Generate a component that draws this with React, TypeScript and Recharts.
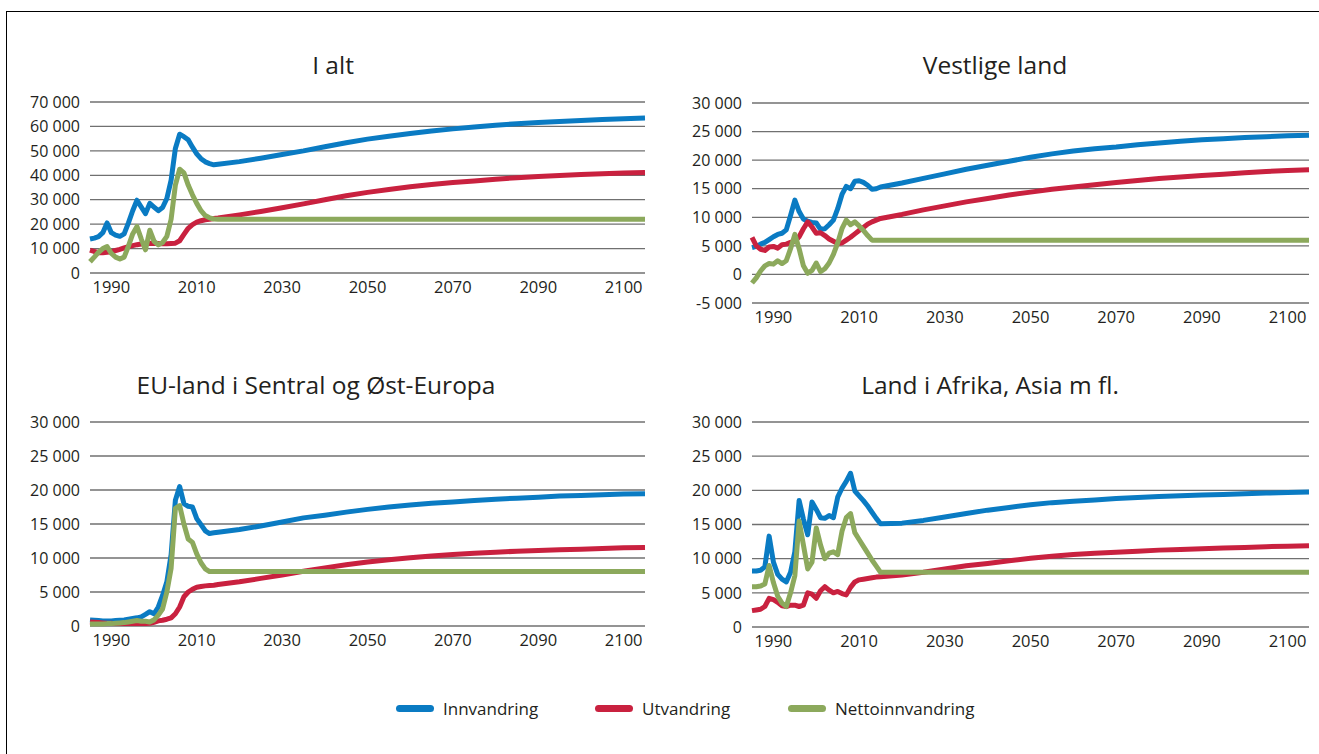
import React from 'react';
import { LineChart, Line, XAxis, YAxis, CartesianGrid } from 'recharts';

// years: annual history, then projection every 5 years
const YEARS = [
  1985, 1986, 1987, 1988, 1989, 1990, 1991, 1992, 1993, 1994, 1995, 1996, 1997, 1998, 1999, 2000,
  2001, 2002, 2003, 2004, 2005, 2006, 2007, 2008, 2009, 2010, 2011, 2012, 2013, 2014, 2015,
  2020, 2025, 2030, 2035, 2040, 2045, 2050, 2055, 2060, 2065, 2070, 2075, 2080, 2085, 2090,
  2095, 2100, 2105, 2110, 2115,
];

const X_TICKS = [1990, 2010, 2030, 2050, 2070, 2090, 2110];
const X_TICK_LABELS = ['1990', '2010', '2030', '2050', '2070', '2090', '2100'];

const SERIES_NAMES = ['Innvandring', 'Utvandring', 'Nettoinnvandring'];

// I alt
const I_ALT_INN = [
  13900, 14300, 14900, 16500, 20500, 16500, 15500, 15000, 16000, 20500, 25500, 29800, 27000, 24300, 28500, 27000,
  25500, 26800, 30500, 38000, 51000, 56800, 55800, 54500, 51500, 48800, 46800, 45500, 44800, 44300, 44500,
  45600, 47000, 48500, 50000, 51700, 53300, 54800, 56000, 57100, 58100, 59000, 59800, 60500, 61100, 61600,
  62000, 62400, 62800, 63100, 63400,
];
const I_ALT_UT = [
  9400, 8800, 8300, 8300, 8500, 8700, 9200, 9700, 10300, 10800, 11200, 11600, 11900, 12100, 12200, 12100,
  12100, 12000, 12000, 12100, 12200, 13200, 15800, 18300, 19800, 20800, 21400, 21800, 22000, 22300, 22500,
  23800, 25200, 26700, 28300, 30000, 31600, 33000, 34200, 35300, 36200, 37000, 37700, 38400, 39000, 39500,
  39900, 40300, 40600, 40900, 41100,
];
const I_ALT_NETTO = [
  4600, 6500, 8500, 10000, 10800, 8000, 6500, 5700, 6500, 11000, 16000, 19000, 14000, 9500, 17500, 13000,
  11500, 12500, 15000, 22000, 36000, 42500, 41000, 36000, 32000, 28500, 25500, 23500, 22600, 22100, 22000,
  22000, 22000, 22000, 22000, 22000, 22000, 22000, 22000, 22000, 22000, 22000, 22000, 22000, 22000, 22000,
  22000, 22000, 22000, 22000, 22000,
];

// Vestlige land
const VEST_INN = [
  4700, 4900, 5300, 5600, 6100, 6600, 7000, 7200, 7800, 10300, 13000, 11000, 9700, 9300, 9100, 9000,
  7900, 8000, 8700, 9500, 11500, 14000, 15400, 15000, 16300, 16400, 16100, 15600, 14900, 15000, 15300,
  16000, 16800, 17600, 18400, 19100, 19800, 20500, 21100, 21600, 22000, 22300, 22700, 23000, 23300, 23550,
  23750, 23950, 24100, 24250, 24350,
];
const VEST_UT = [
  6500, 5000, 4400, 4200, 4800, 4900, 4600, 5200, 5300, 5600, 5800, 6600, 8000, 9200, 8300, 7200,
  7300, 6800, 6200, 5800, 5400, 5500, 6000, 6500, 7100, 7700, 8200, 8800, 9200, 9500, 9800,
  10500, 11300, 12000, 12700, 13300, 13900, 14400, 14900, 15300, 15700, 16100, 16450, 16800, 17050, 17300,
  17550, 17800, 18000, 18200, 18300,
];
const VEST_NETTO = [
  -1500, -600, 600, 1500, 1900, 1800, 2400, 1900, 2400, 4500, 7000, 4500, 1500, 200, 700, 2000,
  500, 1000, 2000, 3500, 5500, 8000, 9500, 8700, 9200, 8500, 7700, 6800, 6000, 6000, 6000,
  6000, 6000, 6000, 6000, 6000, 6000, 6000, 6000, 6000, 6000, 6000, 6000, 6000, 6000, 6000,
  6000, 6000, 6000, 6000, 6000,
];

// EU-land i Sentral og Øst-Europa
const EU_INN = [
  900, 850, 800, 750, 750, 750, 800, 850, 900, 1000, 1100, 1200, 1350, 1700, 2100, 1800,
  2800, 4500, 6500, 10500, 18500, 20500, 18000, 17600, 17500, 15800, 14900, 14000, 13600, 13700, 13800,
  14200, 14700, 15300, 15900, 16300, 16750, 17150, 17500, 17800, 18050, 18250, 18450, 18650, 18800, 18950,
  19100, 19200, 19300, 19400, 19450,
];
const EU_UT = [
  600, 550, 500, 450, 400, 400, 350, 350, 350, 350, 350, 350, 350, 350, 400, 550,
  750, 850, 1000, 1200, 1800, 2800, 4300, 5000, 5400, 5700, 5800, 5900, 5950, 6000, 6100,
  6500, 7000, 7500, 8050, 8550, 9000, 9400, 9750, 10050, 10300, 10500, 10700, 10850, 11000, 11100,
  11200, 11300, 11400, 11500, 11550,
];
const EU_NETTO = [
  300, 300, 300, 300, 350, 350, 400, 450, 500, 600, 700, 800, 700, 700, 600, 900,
  1600, 2500, 5000, 8500, 17300, 17700, 15000, 12800, 12300, 10600, 9300, 8400, 8000, 8000, 8000,
  8000, 8000, 8000, 8000, 8000, 8000, 8000, 8000, 8000, 8000, 8000, 8000, 8000, 8000, 8000,
  8000, 8000, 8000, 8000, 8000,
];

// Land i Afrika, Asia m fl.
const AFR_INN = [
  8200, 8200, 8300, 8800, 13300, 9500, 7700, 7000, 6600, 8000, 11000, 18500, 15800, 13500, 18300, 17200,
  16000, 15900, 16300, 16000, 19000, 20300, 21300, 22500, 19900, 19200, 18500, 17700, 16800, 15900, 15100,
  15200, 15600, 16100, 16600, 17100, 17500, 17900, 18200, 18400, 18600, 18800, 18950, 19100, 19200, 19300,
  19400, 19500, 19600, 19700, 19750,
];
const AFR_UT = [
  2400, 2500, 2600, 3000, 4200, 4000, 3600, 3100, 3000, 3200, 3200, 3000, 3200, 5000, 4800, 4200,
  5300, 5900, 5400, 5000, 5200, 4900, 4700, 5800, 6600, 6900, 7000, 7100, 7200, 7300, 7350,
  7600, 8000, 8500, 8950, 9300, 9700, 10050, 10350, 10600, 10800, 10950, 11100, 11250, 11350, 11450,
  11550, 11650, 11750, 11820, 11880,
];
const AFR_NETTO = [
  5900, 5900, 6000, 6300, 9000, 6500, 4500, 3500, 3000, 5000, 7500, 15500, 12000, 8500, 9500, 14500,
  12000, 10000, 10800, 11000, 10600, 14000, 16000, 16600, 13800, 12800, 11800, 10800, 9800, 8900, 8000,
  8000, 8000, 8000, 8000, 8000, 8000, 8000, 8000, 8000, 8000, 8000, 8000, 8000, 8000, 8000,
  8000, 8000, 8000, 8000, 8000,
];

const Y_TICKS_70 = [0, 10000, 20000, 30000, 40000, 50000, 60000, 70000];
const Y_TICKS_VEST = [-5000, 0, 5000, 10000, 15000, 20000, 25000, 30000];
const Y_TICKS_30 = [0, 5000, 10000, 15000, 20000, 25000, 30000];

const COLORS = ['#0a7bc3', '#c9213f', '#8ca95c'];
const FONT = '"Open Sans", sans-serif';
const TEXT = '#231f20';

const fmt = (v: number) => {
  if (v === 0) return '0';
  const s = Math.abs(v).toString().replace(/\B(?=(\d{3})+(?!\d))/g, ' ');
  return v < 0 ? '-' + s : s;
};

const buildRows = (inn: number[], ut: number[], netto: number[]) =>
  YEARS.map((year, i) => ({ year, inn: inn[i], ut: ut[i], netto: netto[i] }));

interface PanelProps {
  title: string;
  titleX: number;
  titleY: number;
  x0: number;
  x1: number;
  y0: number;
  y1: number;
  yTicks: number[];
  inn: number[];
  ut: number[];
  netto: number[];
}

const Panel: React.FC<PanelProps> = ({ title, titleX, titleY, x0, x1, y0, y1, yTicks, inn, ut, netto }) => {
  const yW = 80;
  const mTop = 10;
  const mRight = 10;
  const xH = 34;
  const data = buildRows(inn, ut, netto);
  return (
    <>
      <div
        style={{
          position: 'absolute', left: titleX - 250, top: titleY - 17, width: 500, lineHeight: '34px',
          textAlign: 'center', fontFamily: FONT, fontSize: 24.5, color: TEXT,
        }}
      >
        {title}
      </div>
      <div style={{ position: 'absolute', left: x0 - yW, top: y0 - mTop }}>
        <LineChart
          width={yW + (x1 - x0) + mRight}
          height={mTop + (y1 - y0) + xH}
          data={data}
          margin={{ top: mTop, right: mRight, left: 0, bottom: 0 }}
        >
          <CartesianGrid vertical={false} stroke="#707070" strokeWidth={1.3} />
          <XAxis
            dataKey="year"
            type="number"
            domain={[1985, 2115]}
            ticks={X_TICKS}
            interval={0}
            tickFormatter={(v: number) => X_TICK_LABELS[X_TICKS.indexOf(v)]}
            axisLine={false}
            tickLine={false}
            tickSize={0}
            tickMargin={8}
            height={xH}
            tick={{ fontFamily: FONT, fontSize: 16.5, fill: TEXT }}
          />
          <YAxis
            type="number"
            domain={[yTicks[0], yTicks[yTicks.length - 1]]}
            ticks={yTicks}
            interval={0}
            tickFormatter={fmt}
            axisLine={false}
            tickLine={false}
            tickSize={0}
            tickMargin={10}
            width={yW}
            tick={{ fontFamily: FONT, fontSize: 16, fill: TEXT }}
          />
          <Line dataKey="inn" name={SERIES_NAMES[0]} stroke={COLORS[0]} strokeWidth={5} dot={false} isAnimationActive={false} strokeLinejoin="round" />
          <Line dataKey="ut" name={SERIES_NAMES[1]} stroke={COLORS[1]} strokeWidth={5} dot={false} isAnimationActive={false} strokeLinejoin="round" />
          <Line dataKey="netto" name={SERIES_NAMES[2]} stroke={COLORS[2]} strokeWidth={5} dot={false} isAnimationActive={false} strokeLinejoin="round" />
        </LineChart>
      </div>
    </>
  );
};

const LEGEND_X = [396, 595, 788];

export default function App() {
  return (
    <div
      style={{
        position: 'absolute', left: 0, top: 0, width: 1319, height: 754, overflow: 'hidden',
        background: '#fff',
      }}
    >
      <div style={{ position: 'absolute', left: 6, top: 11, right: 0, bottom: 0, borderTop: '1.5px solid #000', borderLeft: '1.5px solid #000' }} />
      <Panel title="I alt" titleX={333} titleY={65} x0={90} x1={645} y0={102} y1={273} yTicks={Y_TICKS_70}
        inn={I_ALT_INN} ut={I_ALT_UT} netto={I_ALT_NETTO} />
      <Panel title="Vestlige land" titleX={995} titleY={65} x0={752} x1={1309} y0={103} y1={303} yTicks={Y_TICKS_VEST}
        inn={VEST_INN} ut={VEST_UT} netto={VEST_NETTO} />
      <Panel title="EU-land i Sentral og Øst-Europa" titleX={316} titleY={385} x0={90} x1={645} y0={422} y1={626} yTicks={Y_TICKS_30}
        inn={EU_INN} ut={EU_UT} netto={EU_NETTO} />
      <Panel title="Land i Afrika, Asia m fl." titleX={990} titleY={385} x0={752} x1={1309} y0={422} y1={627} yTicks={Y_TICKS_30}
        inn={AFR_INN} ut={AFR_UT} netto={AFR_NETTO} />
      {SERIES_NAMES.map((name, i) => (
        <div key={name} style={{ position: 'absolute', left: LEGEND_X[i], top: 696, height: 24, display: 'flex', alignItems: 'center' }}>
          <div style={{ width: 38, height: 7, borderRadius: 4, background: COLORS[i], marginRight: 9 }} />
          <span style={{ fontFamily: FONT, fontSize: 17, color: TEXT }}>{name}</span>
        </div>
      ))}
    </div>
  );
}
